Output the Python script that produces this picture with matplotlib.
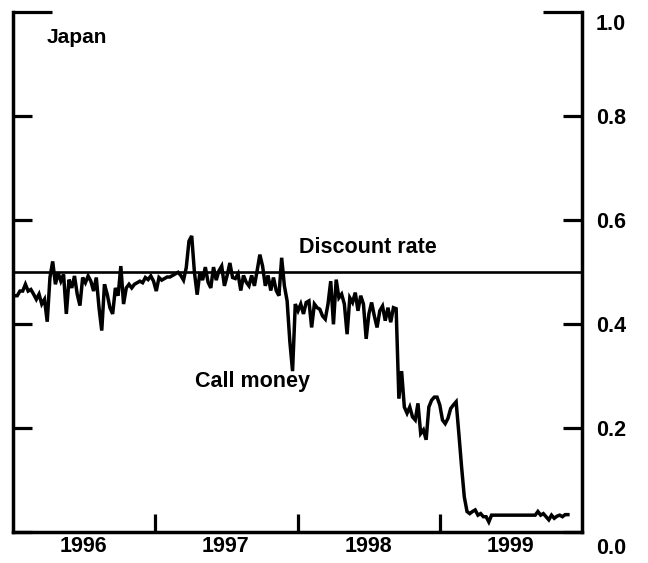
import matplotlib.pyplot as plt
import matplotlib.dates as mdates
import matplotlib.transforms as mtransforms
from matplotlib.ticker import FixedLocator, FixedFormatter, FormatStrFormatter
import pandas as pd

# weekly call money rate (percent)
call_money = [
    0.455, 0.455, 0.464, 0.464, 0.477, 0.464, 0.467, 0.458, 0.448, 0.458,
    0.439, 0.448, 0.405, 0.490, 0.521, 0.477, 0.499, 0.483, 0.496, 0.420,
    0.486, 0.470, 0.493, 0.458, 0.436, 0.490, 0.480, 0.493, 0.483, 0.464,
    0.490, 0.432, 0.388, 0.477, 0.458, 0.432, 0.420, 0.470, 0.455, 0.512,
    0.439, 0.470, 0.477, 0.470, 0.477, 0.480, 0.483, 0.480, 0.490, 0.486,
    0.493, 0.483, 0.464, 0.490,
    0.485, 0.488, 0.491, 0.491, 0.494, 0.497, 0.500, 0.494, 0.485, 0.509,
    0.560, 0.570, 0.500, 0.457, 0.500, 0.485, 0.510, 0.481, 0.470, 0.510,
    0.485, 0.503, 0.512, 0.474, 0.494, 0.518, 0.490, 0.488, 0.497, 0.465,
    0.494, 0.481, 0.474, 0.494, 0.474, 0.503, 0.534, 0.512, 0.474, 0.494,
    0.465, 0.490, 0.465, 0.455, 0.528, 0.474, 0.445, 0.367, 0.310, 0.439,
    0.426, 0.439, 0.420, 0.442, 0.445, 0.394, 0.439, 0.432, 0.429, 0.416,
    0.410, 0.439, 0.483, 0.400, 0.486, 0.451, 0.458, 0.439, 0.381, 0.451,
    0.442, 0.461, 0.426, 0.455, 0.439, 0.372, 0.420, 0.442, 0.416, 0.394,
    0.426, 0.435, 0.407, 0.432, 0.404, 0.432,
    0.430, 0.257, 0.310, 0.241, 0.229, 0.241, 0.222, 0.216, 0.248, 0.190,
    0.197, 0.178, 0.241, 0.254, 0.260, 0.260,
    0.245, 0.216, 0.209, 0.219, 0.238, 0.245, 0.251, 0.190, 0.126, 0.068,
    0.040, 0.036, 0.040, 0.043, 0.033, 0.036, 0.030, 0.030, 0.020, 0.033,
    0.033, 0.033, 0.033, 0.033, 0.033, 0.033, 0.033, 0.033, 0.033, 0.033,
    0.033, 0.033, 0.033, 0.033, 0.033, 0.033,
    0.040, 0.033, 0.036, 0.030, 0.024, 0.033, 0.027, 0.031, 0.033, 0.030,
    0.034, 0.034,
]
discount_rate = 0.5
weeks = pd.date_range('1996-01-05', periods=len(call_money), freq='W-FRI')

year_ticks = pd.to_datetime(['1997-01-01', '1998-01-01', '1999-01-01'])
year_label_pos = pd.to_datetime(['1996-07-01', '1997-07-01', '1998-07-01', '1999-07-01'])
year_labels = ['1996', '1997', '1998', '1999']
y_ticks = [0.0, 0.2, 0.4, 0.6, 0.8, 1.0]

plt.rcParams['font.family'] = ['Liberation Sans', 'DejaVu Sans']
plt.rcParams['font.weight'] = 'bold'

fig = plt.figure(figsize=(6.48, 5.63), dpi=100)
ax = fig.add_axes([0.020, 0.0545, 0.878, 0.9236])

ax.plot(weeks, call_money, color='black', lw=2.5, solid_joinstyle='miter')
ax.axhline(discount_rate, color='black', lw=1.9)

ax.set_xlim(pd.Timestamp('1996-01-01'), pd.Timestamp('2000-01-01'))
ax.set_ylim(0, 1)

ax.spines['top'].set_visible(False)
for side in ['left', 'right', 'bottom']:
    ax.spines[side].set_linewidth(2.5)

# y axis: ticks in on both sides, labels on the right
ax.yaxis.set_major_locator(FixedLocator(y_ticks))
ax.yaxis.set_major_formatter(FormatStrFormatter('%.1f'))
ax.tick_params(axis='y', which='major', direction='in', left=True, right=True,
               labelleft=False, labelright=True, length=14, width=2.3,
               labelsize=15.5, pad=10)

# x axis: year boundaries as ticks, labels centred in each year
ax.xaxis.set_major_locator(FixedLocator(mdates.date2num(year_ticks)))
ax.xaxis.set_major_formatter(FixedFormatter(['', '', '']))
ax.xaxis.set_minor_locator(FixedLocator(mdates.date2num(year_label_pos)))
ax.xaxis.set_minor_formatter(FixedFormatter(year_labels))
ax.tick_params(axis='x', which='major', direction='in', length=13, width=2.3)
ax.tick_params(axis='x', which='minor', length=0, labelsize=15.5, pad=3)

ax.text(pd.Timestamp('1998-01-04'), 0.538, 'Discount rate', fontsize=15.5, ha='left', va='baseline')
ax.text(pd.Timestamp('1997-04-12'), 0.279, 'Call money', fontsize=15.5, ha='left', va='baseline')
ax.text(pd.Timestamp('1996-03-28'), 0.941, 'Japan', fontsize=15, ha='left', va='baseline')

ticks = ax.yaxis.get_major_ticks()
# longer marks at the top, standing in for a top border
ticks[-1].tick1line.set_markersize(28)
ticks[-1].tick2line.set_markersize(28)
# end labels sit a little lower than their ticks
for tk, dy in [(ticks[0], -14), (ticks[-1], -10)]:
    tk.label2.set_transform(tk.label2.get_transform() +
                            mtransforms.ScaledTranslation(0, dy / 100, fig.dpi_scale_trans))

fig.savefig('out.png', dpi=100)
